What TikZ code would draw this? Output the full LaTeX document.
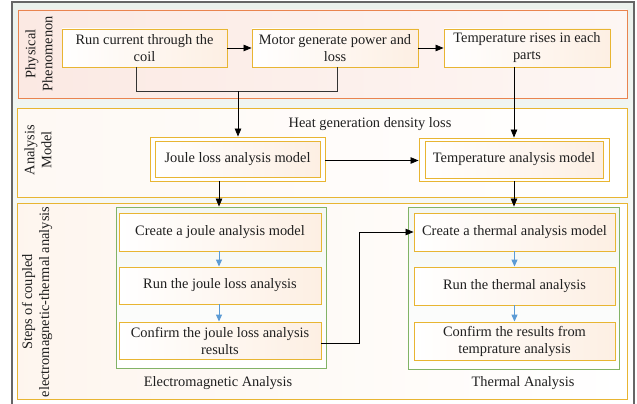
\documentclass[tikz,border=0pt]{standalone}
\usepackage{fontspec}
\setmainfont{Liberation Serif}
\usetikzlibrary{arrows.meta}
\definecolor{frameorange}{HTML}{E9844F}
\definecolor{gold}{HTML}{E8B532}
\definecolor{grn}{HTML}{82B366}
\definecolor{arrblue}{HTML}{5B9BD5}
\definecolor{peach}{HTML}{FDEFE3}
\definecolor{pinkbg}{HTML}{FBE9E3}
\definecolor{outerbg}{HTML}{EBF1EC}
\tikzset{
  txt/.style={font=\fontsize{14.4}{17}\selectfont, text=black!88},
  box/.style={txt, draw=gold, line width=0.9pt, left color=white, right color=peach, align=center, inner sep=0pt},
  outerbox/.style={draw=gold, line width=0.9pt, fill=white, inner sep=0pt},
  grnbox/.style={draw=grn, line width=0.9pt, top color=white!40!outerbg, bottom color=white, inner sep=0pt},
  sec/.style={line width=0.9pt, inner sep=0pt},
  side/.style={txt, rotate=90, align=center},
  arr/.style={line width=0.8pt, black, -{Triangle[length=8pt,width=6.5pt]}},
  ln/.style={line width=0.8pt, black!80},
  barr/.style={line width=1pt, arrblue, -{Triangle[length=7pt,width=6pt]}},
}
\begin{document}
\begin{tikzpicture}[x=1pt,y=-1pt]
\useasboundingbox (0,0) rectangle (637,404);
% outer frame
\shade[top color=outerbg, bottom color=white] (12,2) rectangle (634,404);
\draw[gray!80!black, line width=1.2pt] (12,404) -- (12,2) -- (634,2) -- (634,404);
% sections
\node[sec, draw=frameorange, left color=pinkbg, right color=white!60!pinkbg, minimum width=609pt, minimum height=88pt] (s1) at (322.5,54) {};
\node[sec, draw=gold, left color=white!60!peach, right color=white, minimum width=610pt, minimum height=89pt] (s2) at (322,152.5) {};
\node[sec, draw=gold, left color=white!40!peach, right color=white, minimum width=610pt, minimum height=196pt] (s3) at (322,301) {};
% side labels
\node[side] (l1) at (39,54) {Physical\\Phenomenon};
\node[side] (l2) at (38,150) {Analysis\\Model};
\node[side] (l3) at (37,302) {Steps of coupled\\electromagnetic-thermal analysis};
% physical boxes
\node[box, minimum width=165pt, minimum height=38pt] (b1) at (144.5,48) {Run current through the\\coil};
\node[box, minimum width=166pt, minimum height=38pt] (b2) at (335,48) {Motor generate power and\\loss};
\node[box, minimum width=166pt, minimum height=38pt] (b3) at (527,48) {Temperature rises in each\\parts};
\draw[arr] (b1) -- (b2);
\draw[arr] (b2) -- (b3);
% analysis model
\node[txt] (hg) at (370,124) {Heat generation density loss};
\node[outerbox, minimum width=175pt, minimum height=44pt] (jo) at (237.5,159) {};
\node[box, minimum width=165pt, minimum height=36pt] (j) at (237.5,159) {Joule loss analysis model};
\node[outerbox, minimum width=190pt, minimum height=43pt] (to) at (514,159.5) {};
\node[box, minimum width=178pt, minimum height=37pt] (t) at (514,159.5) {Temperature analysis model};
\coordinate (m1) at (136,91);
\coordinate (m2) at (337,91);
\coordinate (m3) at (238,91);
\draw[ln] (b1.south -| m1) -- (m1) -- (m2) -- (b2.south -| m2);
\draw[arr] (m3) -- (jo.north -| m3);
\draw[arr] (b3.south -| to.north) -- (to.north);
\draw[arr] (jo.east |- 0,160.5) -- (to.west |- 0,160.5);
% steps
\node[grnbox, minimum width=210pt, minimum height=161pt] (ga) at (221,287.5) {};
\node[grnbox, minimum width=211pt, minimum height=162pt] (gb) at (513.5,288) {};
\node[box, minimum width=202pt, minimum height=38pt] (e1) at (220,232) {Create a joule analysis model};
\node[box, minimum width=202pt, minimum height=37pt] (e2) at (220,285.5) {Run the joule loss analysis};
\node[box, minimum width=202pt, minimum height=37pt] (e3) at (220,340.5) {Confirm the joule loss analysis\\results};
\node[box, minimum width=201pt, minimum height=38pt] (h1) at (514.5,232) {Create a thermal analysis model};
\node[box, minimum width=201pt, minimum height=38pt] (h2) at (514.5,286) {Run the thermal analysis};
\node[box, minimum width=201pt, minimum height=38pt] (h3) at (514.5,341) {Confirm the results from\\temprature analysis};
\node[txt] (ea) at (218,383) {Electromagnetic Analysis};
\node[txt] (ta) at (523,383) {Thermal Analysis};
\coordinate (jd) at (219,0);
\draw[arr] (jo.south -| jd) -- (ga.north -| jd);
\draw[arr] (to.south) -- (gb.north -| to.south);
\draw[barr] (e1.south -| jd) -- (e2.north -| jd);
\draw[barr] (e2.south -| jd) -- (e3.north -| jd);
\draw[barr] (h1) -- (h2);
\draw[barr] (h2) -- (h3);
\coordinate (c1) at (359,343);
\coordinate (c2) at (359,232);
\draw[ln, black, -{Triangle[length=8pt,width=6.5pt]}] (e3.east |- c1) -- (c1) -- (c2) -- (h1.west |- c2);
\end{tikzpicture}
\end{document}
